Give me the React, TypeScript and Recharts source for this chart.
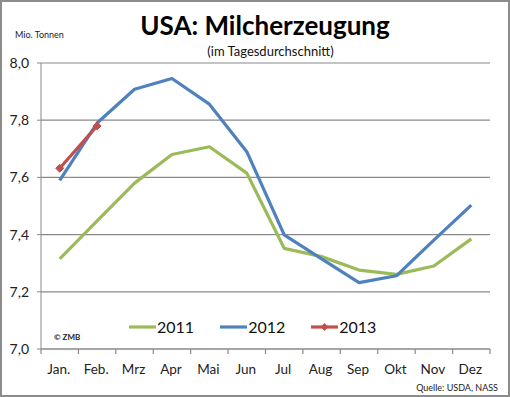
import React from "react";
import { LineChart, Line, XAxis, YAxis, CartesianGrid } from "recharts";

const months = ["Jan.", "Feb.", "Mrz", "Apr", "Mai", "Jun", "Jul", "Aug", "Sep", "Okt", "Nov", "Dez"];
const s2011 = [7.315, 7.448, 7.58, 7.68, 7.707, 7.615, 7.352, 7.323, 7.276, 7.261, 7.29, 7.385];
const s2012 = [7.59, 7.79, 7.908, 7.946, 7.856, 7.69, 7.399, 7.315, 7.232, 7.256, 7.381, 7.503];
const s2013: (number | null)[] = [7.632, 7.78, null, null, null, null, null, null, null, null, null, null];
const yTicks = [7.0, 7.2, 7.4, 7.6, 7.8, 8.0];

const series = [
  { key: "y2011", name: "2011", color: "#9BBB59", marker: false },
  { key: "y2012", name: "2012", color: "#4F81BD", marker: false },
  { key: "y2013", name: "2013", color: "#C0504D", marker: true },
];

const data = months.map((m, i) => ({
  month: m,
  y2011: s2011[i],
  y2012: s2012[i],
  y2013: s2013[i],
}));

const FONT = "Lato, 'Open Sans', sans-serif";
const HALF_BAND = 449 / 24;
const X_TICK_SIZE = 6;
const X_TICK_MARGIN = 12;
const GRAY = "#8a8a8a";

const Diamond = (props: any) => {
  const { cx, cy, fill } = props;
  if (cx == null || cy == null || props.value == null) return null;
  const r = 4;
  return (
    <path
      d={`M${cx},${cy - r} L${cx + r},${cy} L${cx},${cy + r} L${cx - r},${cy} Z`}
      fill={fill}
      stroke={fill}
    />
  );
};

const MonthTick = (props: any) => {
  const { x, y, payload, index } = props;
  const axisY = y - X_TICK_SIZE - X_TICK_MARGIN;
  const isLast = index === months.length - 1;
  return (
    <g>
      <line x1={x - HALF_BAND} y1={axisY} x2={x - HALF_BAND} y2={axisY + 5} stroke={GRAY} strokeWidth={1.2} />
      {isLast && (
        <line x1={x + HALF_BAND} y1={axisY} x2={x + HALF_BAND} y2={axisY + 5} stroke={GRAY} strokeWidth={1.2} />
      )}
      <text x={x - 1} y={y} dy={7} textAnchor="middle" fontSize={13.5} fill="#222" fontFamily={FONT}>
        {payload.value}
      </text>
    </g>
  );
};

export default function App() {
  return (
    <div
      style={{
        position: "absolute",
        left: 0,
        top: 0,
        width: 510,
        height: 397,
        background: "#fff",
        fontFamily: FONT,
      }}
    >
      <div
        style={{
          position: "absolute",
          left: 0,
          top: 0,
          width: 510,
          height: 397,
          boxSizing: "border-box",
          border: "2px solid #8c8c8c",
          pointerEvents: "none",
          zIndex: 2,
        }}
      />
      <LineChart
        width={510}
        height={397}
        data={data}
        margin={{ top: 63, right: 20, bottom: 0, left: 0 }}
      >
        <CartesianGrid horizontal vertical={false} stroke={GRAY} strokeWidth={1.2} />
        <XAxis
          dataKey="month"
          tickLine={false}
          axisLine={{ stroke: GRAY, strokeWidth: 1.2 }}
          interval={0}
          height={48}
          padding={{ left: HALF_BAND, right: HALF_BAND }}
          tick={<MonthTick />}
          tickSize={X_TICK_SIZE}
          tickMargin={X_TICK_MARGIN}
        />
        <YAxis
          domain={[7, 8]}
          ticks={yTicks}
          width={41}
          tickSize={4}
          tickMargin={8}
          stroke={GRAY}
          tickFormatter={(v: number) => v.toFixed(1).replace(".", ",")}
          tick={{ fontSize: 14, fill: "#222", fontFamily: FONT }}
          interval={0}
        />
        {series.map((s) => (
          <Line
            key={s.key}
            dataKey={s.key}
            name={s.name}
            stroke={s.color}
            strokeWidth={3.2}
            dot={s.marker ? <Diamond fill={s.color} /> : false}
            activeDot={false}
            isAnimationActive={false}
            connectNulls={false}
            strokeLinejoin="round"
          />
        ))}
      </LineChart>

      <div
        style={{
          position: "absolute",
          left: 0,
          width: 530,
          top: 10,
          textAlign: "center",
          fontSize: 26,
          fontWeight: 700,
          color: "#000",
          lineHeight: "30px",
        }}
      >
        USA: Milcherzeugung
      </div>
      <div
        style={{
          position: "absolute",
          left: 0,
          width: 541,
          top: 43,
          textAlign: "center",
          fontSize: 13,
          color: "#111",
          lineHeight: "16px",
        }}
      >
        (im Tagesdurchschnitt)
      </div>
      <div
        style={{
          position: "absolute",
          left: 15,
          top: 29,
          fontSize: 9,
          color: "#222",
          lineHeight: "11px",
        }}
      >
        Mio. Tonnen
      </div>
      <div
        style={{
          position: "absolute",
          left: 54,
          top: 332,
          fontSize: 8,
          fontWeight: 700,
          color: "#222",
          lineHeight: "10px",
        }}
      >
        © ZMB
      </div>
      <div
        style={{
          position: "absolute",
          right: 12,
          top: 382,
          fontSize: 9,
          color: "#222",
          lineHeight: "11px",
        }}
      >
        Quelle: USDA, NASS
      </div>

      <div
        style={{
          position: "absolute",
          left: 129,
          top: 317,
          display: "flex",
          alignItems: "center",
          fontSize: 16,
          color: "#111",
          lineHeight: "20px",
        }}
      >
        {series.map((s, i) => (
          <div
            key={s.key}
            style={{ display: "flex", alignItems: "center", marginRight: i < series.length - 1 ? 26 : 0 }}
          >
            <svg width={27} height={10} style={{ display: "block" }}>
              <line x1={0} y1={5} x2={27} y2={5} stroke={s.color} strokeWidth={3.2} />
              {s.marker && <path d="M13.5,1 L17.5,5 L13.5,9 L9.5,5 Z" fill={s.color} />}
            </svg>
            <span style={{ marginLeft: 1 }}>{s.name}</span>
          </div>
        ))}
      </div>
    </div>
  );
}
